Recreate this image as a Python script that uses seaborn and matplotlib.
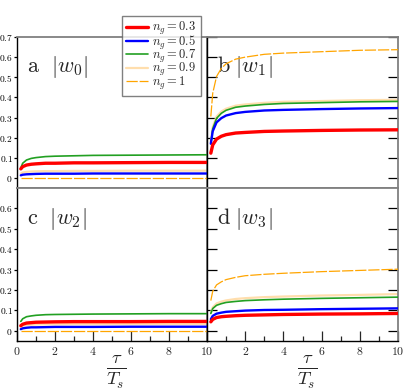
import numpy as np
import pandas as pd
import matplotlib
matplotlib.use("Agg")
import matplotlib.pyplot as plt
import seaborn as sns

sns.set_style("white")
plt.rcParams["mathtext.fontset"] = "cm"
plt.rcParams["font.family"] = ["DejaVu Serif"]

# tau / T_s sample points
tau = [0.2, 0.3, 0.5, 0.75, 1.0, 1.5, 2.0, 3.0, 4.0, 6.0, 8.0, 10.0]

ng_labels = ["0.3", "0.5", "0.7", "0.9", "1"]

# |w0|
w0 = {
    "0.3": [0.045, 0.056, 0.064, 0.068, 0.070, 0.073, 0.073, 0.075, 0.075, 0.076, 0.077, 0.077],
    "0.5": [0.013, 0.016, 0.018, 0.019, 0.020, 0.021, 0.021, 0.021, 0.022, 0.022, 0.022, 0.022],
    "0.7": [0.050, 0.073, 0.089, 0.097, 0.101, 0.106, 0.108, 0.110, 0.112, 0.113, 0.114, 0.115],
    "0.9": [0.022, 0.027, 0.030, 0.032, 0.033, 0.034, 0.034, 0.035, 0.035, 0.036, 0.036, 0.036],
    "1":   [0.0] * 12,
}
# |w1|
w1 = {
    "0.3": [0.123, 0.164, 0.193, 0.207, 0.215, 0.223, 0.226, 0.231, 0.233, 0.236, 0.238, 0.239],
    "0.5": [0.170, 0.232, 0.276, 0.297, 0.310, 0.322, 0.328, 0.335, 0.338, 0.342, 0.345, 0.347],
    "0.7": [0.170, 0.244, 0.296, 0.321, 0.336, 0.351, 0.357, 0.365, 0.370, 0.374, 0.378, 0.380],
    "0.9": [0.180, 0.253, 0.305, 0.330, 0.344, 0.359, 0.365, 0.373, 0.378, 0.382, 0.386, 0.388],
    "1":   [0.305, 0.421, 0.504, 0.544, 0.567, 0.590, 0.600, 0.614, 0.620, 0.627, 0.634, 0.637],
}
# |w2|
w2 = {
    "0.3": [0.025, 0.032, 0.038, 0.040, 0.042, 0.043, 0.044, 0.045, 0.045, 0.045, 0.046, 0.046],
    "0.5": [0.008, 0.012, 0.015, 0.017, 0.017, 0.018, 0.019, 0.019, 0.019, 0.020, 0.020, 0.020],
    "0.7": [0.046, 0.059, 0.069, 0.073, 0.076, 0.079, 0.080, 0.081, 0.082, 0.083, 0.084, 0.084],
    "0.9": [0.020, 0.025, 0.028, 0.030, 0.031, 0.032, 0.032, 0.033, 0.033, 0.034, 0.034, 0.034],
    "1":   [0.0] * 12,
}
# |w3|
w3 = {
    "0.3": [0.044, 0.056, 0.065, 0.069, 0.071, 0.074, 0.076, 0.078, 0.080, 0.082, 0.083, 0.085],
    "0.5": [0.057, 0.073, 0.084, 0.089, 0.093, 0.096, 0.099, 0.102, 0.103, 0.106, 0.108, 0.110],
    "0.7": [0.085, 0.109, 0.125, 0.133, 0.139, 0.144, 0.148, 0.152, 0.155, 0.159, 0.162, 0.165],
    "0.9": [0.087, 0.115, 0.134, 0.143, 0.149, 0.156, 0.160, 0.165, 0.168, 0.173, 0.176, 0.180],
    "1":   [0.148, 0.194, 0.225, 0.240, 0.251, 0.262, 0.270, 0.277, 0.282, 0.290, 0.296, 0.302],
}

panel_titles = [r"$\mathrm{a}\ \ |w_0|$", r"$\mathrm{b}\ |w_1|$",
                r"$\mathrm{c}\ \ |w_2|$", r"$\mathrm{d}\ |w_3|$"]
yticks_top = [0, 0.1, 0.2, 0.3, 0.4, 0.5, 0.6, 0.7]
yticks_bot = [0, 0.1, 0.2, 0.3, 0.4, 0.5, 0.6]
xticks = [0, 2, 4, 6, 8, 10]

styles = {
    "0.3": dict(color="#ff0000", lw=2.4, ls="-", z=5),
    "0.5": dict(color="#0000ff", lw=1.7, ls="-", z=4),
    "0.7": dict(color="#22a022", lw=1.2, ls="-", z=3),
    "0.9": dict(color="#ffdead", lw=1.6, ls="-", z=2),
    "1":   dict(color="#ffa500", lw=0.9, ls=(0, (9, 1.5)), z=6),
}

fig = plt.figure(figsize=(4.15, 3.92), dpi=100)
W, H = 415, 392
boxes = [(17, 37, 207, 188), (207, 37, 398, 188),
         (17, 188, 207, 341), (207, 188, 398, 341)]
axes = [fig.add_axes([x0 / W, 1 - y1 / H, (x1 - x0) / W, (y1 - y0) / H])
        for x0, y0, x1, y1 in boxes]

for i, (ax, data) in enumerate(zip(axes, [w0, w1, w2, w3])):
    for ng in ng_labels:
        st = styles[ng]
        df = pd.DataFrame({"tau": tau, "w": data[ng]})
        sns.lineplot(data=df, x="tau", y="w", ax=ax, color=st["color"], lw=st["lw"],
                     linestyle=st["ls"], zorder=st["z"],
                     label=rf"$n_g = {ng}$" if i == 0 else None)
    ax.set_xlim(0, 10)
    ax.set_ylim(-0.05, 0.7)
    ax.set_xlabel("")
    ax.set_ylabel("")
    ax.text(0.05, 0.885, panel_titles[i], transform=ax.transAxes, fontsize=16,
            va="top", ha="left")

    left = i % 2 == 0
    bottom = i >= 2
    for side in ["top", "right", "left", "bottom"]:
        ax.spines[side].set_color("#808080")
        ax.spines[side].set_linewidth(1.3)
    ax.spines["left"].set_color("black")
    ax.spines["left"].set_linewidth(1.0)
    if bottom:
        ax.spines["bottom"].set_color("black")
        ax.spines["bottom"].set_linewidth(1.0)

    yt = yticks_top if i < 2 else yticks_bot
    ax.set_yticks(yt)
    if left:
        ax.set_yticklabels(["$%g$" % v for v in yt])
    else:
        ax.set_yticklabels([])
    ax.tick_params(axis="y", which="both", left=True, right=True, direction="in",
                   length=7, width=0.9, labelsize=6.8, pad=0.5, colors="black")
    if left:
        ax.tick_params(axis="y", which="both", left=True, direction="out", length=2.5)

    if bottom:
        ax.set_xticks(xticks)
        labs = ["$%g$" % v for v in xticks]
        if not left:
            labs[0] = ""
        ax.set_xticklabels(labs)
        ax.set_xticks([1, 3, 5, 7, 9], minor=True)
        ax.tick_params(axis="x", which="major", bottom=True, top=False, direction="in",
                       length=7, width=0.9, labelsize=8.5, pad=3)
        ax.tick_params(axis="x", which="minor", bottom=True, top=False, direction="in",
                       length=3.5, width=0.9)
        fig.text((boxes[i][0] + boxes[i][2]) / 2 / W + 0.01, 1 - 372 / H,
                 r"$\frac{\tau}{T_s}$", fontsize=19, ha="center", va="center")
    else:
        ax.set_xticks([])

leg = axes[0].legend(loc="upper left", bbox_to_anchor=(122 / W, 1 - 16 / H),
                     bbox_transform=fig.transFigure, fontsize=9, frameon=True,
                     fancybox=False, handlelength=1.7, handletextpad=0.35,
                     labelspacing=-0.3, borderpad=0.35, borderaxespad=0)
leg.get_frame().set_edgecolor("#606060")
leg.get_frame().set_linewidth(1.0)
leg.set_zorder(10)

fig.savefig("out.png", dpi=100)
